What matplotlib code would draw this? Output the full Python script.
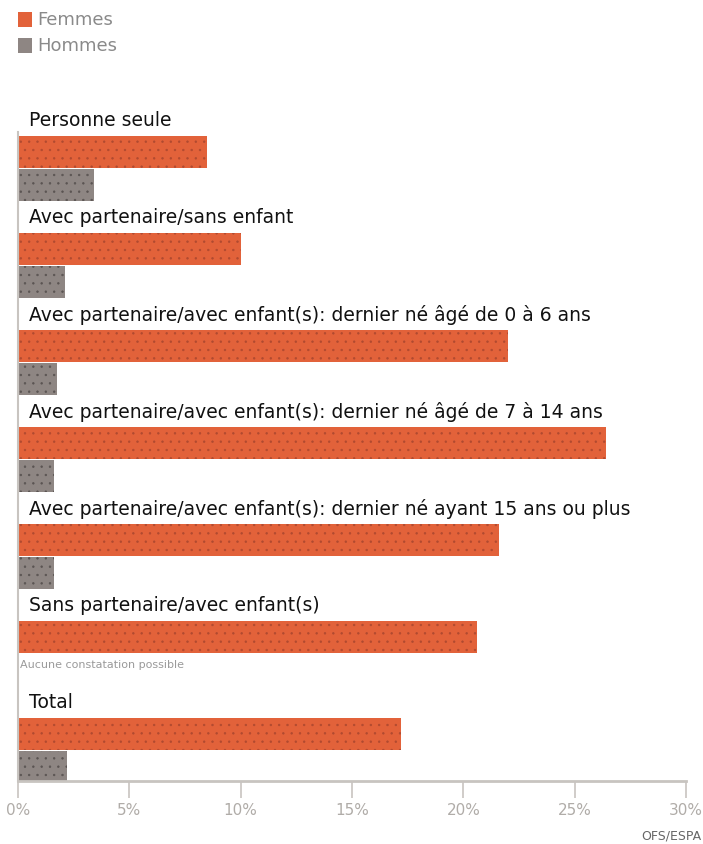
import matplotlib.pyplot as plt
import matplotlib as mpl
from matplotlib.patches import Rectangle

# Données : part en % par situation familiale
categories = [
    "Personne seule",
    "Avec partenaire/sans enfant",
    "Avec partenaire/avec enfant(s): dernier né âgé de 0 à 6 ans",
    "Avec partenaire/avec enfant(s): dernier né âgé de 7 à 14 ans",
    "Avec partenaire/avec enfant(s): dernier né ayant 15 ans ou plus",
    "Sans partenaire/avec enfant(s)",
    "Total",
]
femmes = [8.5, 10.0, 22.0, 26.4, 21.6, 20.6, 17.2]
hommes = [3.4, 2.1, 1.75, 1.6, 1.6, None, 2.2]
ticks = [0, 5, 10, 15, 20, 25, 30]
tick_labels = ["0%", "5%", "10%", "15%", "20%", "25%", "30%"]
series = ["Femmes", "Hommes"]

c_f = "#e2623a"
c_h = "#8e8683"
grey = "#9a9a9a"

mpl.rcParams['hatch.linewidth'] = 0.5
plt.rcParams['font.family'] = ['DejaVu Sans']

fig = plt.figure(figsize=(7.03, 8.45), dpi=100)
ax = fig.add_axes([18/703, 1-782/845, 668/703, (782-133)/845])

h = 0.335
for i, cat in enumerate(categories):
    ax.barh(i, femmes[i], height=h, color=c_f, edgecolor="#b04a30",
            hatch='..', linewidth=0)
    if hommes[i] is not None:
        ax.barh(i + h + 0.005, hommes[i], height=h, color=c_h, edgecolor="#5a5452",
                hatch='..', linewidth=0)
    ax.text(0.5, i - 0.33, cat, fontsize=13.5, color="#111111",
            va='center', ha='left', clip_on=False)

ax.text(0.1, 5.28, "Aucune constatation possible", fontsize=8, color=grey,
        va='center', ha='left')

ax.set_xlim(0, 30)
ax.set_ylim(6.485, (133-153)/97)
ax.set_yticks([])
ax.set_xticks(ticks)
ax.set_xticklabels(tick_labels, color="#b0aca8", fontsize=11)
ax.tick_params(axis='x', direction='out', length=12, width=1.2, color="#c8c4c0", pad=3)

for s in ['top', 'right']:
    ax.spines[s].set_visible(False)
ax.spines['bottom'].set_color("#c8c4c0")
ax.spines['bottom'].set_linewidth(2)
ax.spines['left'].set_color("#c8c4c0")
ax.spines['left'].set_linewidth(1.5)

# légende en haut à gauche
for k, (lab, col) in enumerate(zip(series, [c_f, c_h])):
    y = 1 - (20 + 26*k)/845
    fig.patches.append(Rectangle((18/703, y - 7.5/845), 14/703, 15/845,
                                 transform=fig.transFigure, facecolor=col,
                                 edgecolor='none'))
    fig.text(37/703, y, lab, fontsize=13, color="#8a8a8a", va='center', ha='left')

fig.text(701/703, 1-836/845, "OFS/ESPA", fontsize=9, color="#666666", ha='right', va='center')

fig.savefig("out.png", dpi=100)
